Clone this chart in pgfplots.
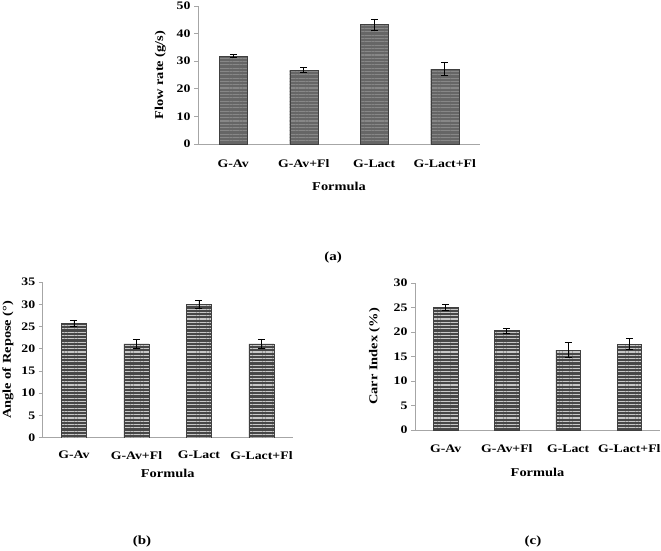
\documentclass[border=0pt]{standalone}
\usepackage{pgfplots}
\pgfplotsset{compat=1.18}
\usetikzlibrary{patterns.meta}
\usepackage{fontspec}
\setmainfont{Liberation Serif}[FakeStretch=1.2]

\pgfplotsset{
  flowbase/.style={
    scale only axis,
    ybar,
    bar width=0.4,
    xmin=-0.5, xmax=3.5,
    ymin=0,
    axis x line*=bottom,
    axis y line*=left,
    axis line style={gray!70, line width=1pt},
    xtick=data,
    xticklabels={G-Av, G-Av+Fl, G-Lact, G-Lact+Fl},
    xtick style={draw=none},
    ytick style={gray!70, line width=0.8pt},
    tick align=outside,
    major tick length=4pt,
    tick label style={font=\fontsize{11.5}{13}\selectfont\bfseries},
    label style={font=\fontsize{12}{14}\selectfont\bfseries},
    /pgf/number format/assume math mode=true,
    error bars/y dir=both,
    error bars/y explicit,
    error bars/error bar style={black, line width=0.9pt},
    error bars/error mark options={black, line width=0.9pt, mark size=3.5pt, rotate=90},
  },
  stripes/.style 2 args={
    draw=black!75, line width=0.3pt, fill=#1,
    postaction={pattern={Lines[angle=0, distance=3.3pt, line width=1.1pt]}, pattern color=#2},
  },
}

\begin{document}
\begin{tikzpicture}
\useasboundingbox (0,0) rectangle (661pt,-550pt);

% (a) flow rate
\begin{axis}[flowbase,
  at={(198pt,-144pt)}, anchor=south west,
  width=282pt, height=138pt,
  ymax=50, ytick={0,10,...,50},
  xticklabel style={yshift=-8pt},
  xlabel={Formula}, xlabel style={yshift=-8pt},
  ylabel={Flow rate (g/s)}, ylabel style={yshift=4pt},
]
\addplot[stripes={black!60}{black!47}] coordinates {
  (0,31.8) +- (0,0.5)
  (1,26.8) +- (0,0.8)
  (2,43.3) +- (0,2.0)
  (3,27.1) +- (0,2.3)
};
\end{axis}

% (b) angle of repose
\begin{axis}[flowbase,
  at={(42.7pt,-437.7pt)}, anchor=south west,
  width=250pt, height=155.7pt,
  ymax=35, ytick={0,5,...,35},
  xticklabel style={yshift=-6pt},
  xlabel={Formula}, xlabel style={yshift=-3pt},
  ylabel={Angle of Repose (°)}, ylabel style={yshift=1pt},
]
\addplot[stripes={black!72}{black!22}] coordinates {
  (0,25.7) +- (0,0.6)
  (1,21.1) +- (0,1.0)
  (2,30.0) +- (0,0.9)
  (3,21.1) +- (0,1.1)
};
\end{axis}

% (c) Carr index
\begin{axis}[flowbase,
  at={(415pt,-430pt)}, anchor=south west,
  width=245pt, height=147pt,
  ymax=30, ytick={0,5,...,30},
  xticklabel style={yshift=-7pt},
  xlabel={Formula}, xlabel style={yshift=-9pt},
  ylabel={Carr Index (\%)}, ylabel style={yshift=7pt},
]
\addplot[stripes={black!72}{black!22}] coordinates {
  (0,25.0) +- (0,0.6)
  (1,20.3) +- (0,0.5)
  (2,16.3) +- (0,1.5)
  (3,17.5) +- (0,1.1)
};
\end{axis}

\node[font=\fontsize{12.5}{14}\selectfont\bfseries] at (333pt,-257pt) {(a)};
\node[font=\fontsize{12.5}{14}\selectfont\bfseries] at (142pt,-541pt) {(b)};
\node[font=\fontsize{12.5}{14}\selectfont\bfseries] at (533pt,-541pt) {(c)};
\end{tikzpicture}
\end{document}
